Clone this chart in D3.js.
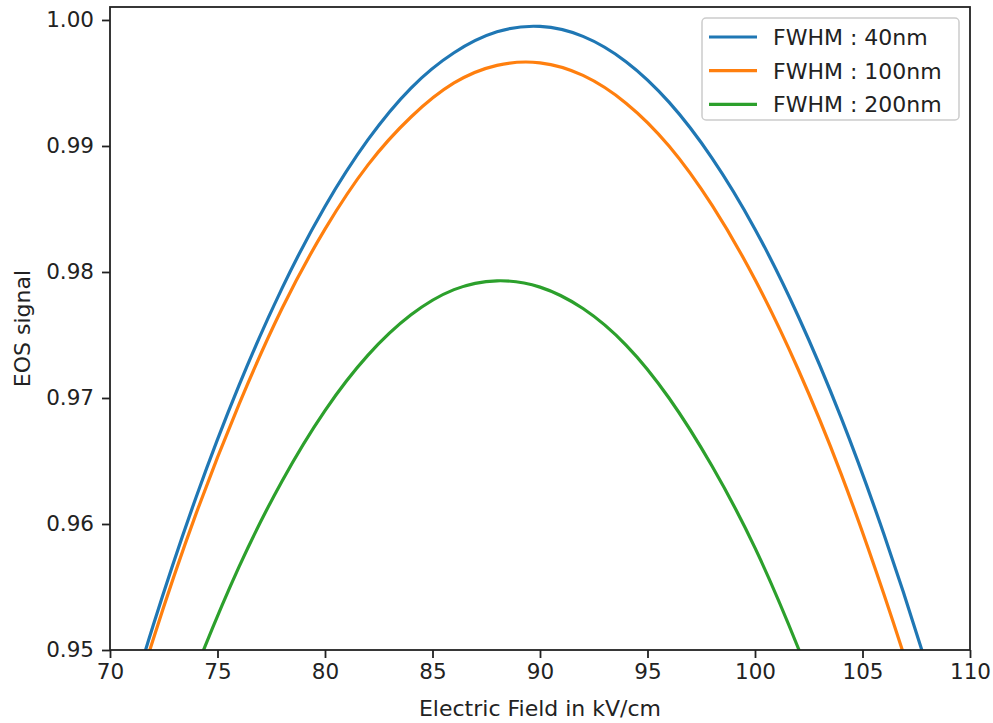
<html>

<head>
    <script src="https://d3js.org/d3.v7.min.js"></script>
    <style>
        body { margin: 0; background: white; }
        text { font-family: "DejaVu Sans", sans-serif; }
    </style>
</head>

<body>
    <div id="vis"></div>
</body>

<script>

    // Data (EOS signal vs electric field)
    var field = [70, 72, 74, 76, 78, 80, 82, 84, 86, 88, 90, 92, 94, 96, 98, 100, 102, 104, 106, 108, 110];
    var fwhm40 = [0.9406, 0.9519, 0.9621, 0.9710, 0.9787, 0.9852, 0.9905, 0.9946, 0.9974, 0.99906, 0.99949,
        0.99870, 0.99669, 0.99348, 0.98904, 0.98340, 0.97653, 0.96846, 0.95917, 0.94866, 0.93695];
    var fwhm100 = [0.9396, 0.9508, 0.9608, 0.9695, 0.9771, 0.9834, 0.9885, 0.9923, 0.9950, 0.9964, 0.9966,
        0.9956, 0.9934, 0.9900, 0.9853, 0.9794, 0.9723, 0.9640, 0.9544, 0.9437, 0.9317];
    var fwhm200 = [0.9288, 0.9393, 0.9485, 0.9566, 0.9634, 0.9690, 0.9734, 0.9766, 0.9786, 0.9793, 0.9788,
        0.9771, 0.9742, 0.9700, 0.9646, 0.9581, 0.9502, 0.9412, 0.9310, 0.9200, 0.9080];
    var labels = ["FWHM : 40nm", "FWHM : 100nm", "FWHM : 200nm"];
    var colors = ["#1f77b4", "#ff7f0e", "#2ca02c"];
    var xTicks = [70, 75, 80, 85, 90, 95, 100, 105, 110];
    var yTicks = [0.95, 0.96, 0.97, 0.98, 0.99, 1.00];

    //Setting up the graph area
    var margin = { top: 7, right: 23, bottom: 73, left: 110 },
        width = 993 - margin.left - margin.right,
        height = 723 - margin.top - margin.bottom;

    var svg = d3.select("#vis")
        .append("svg")
        .attr("width", width + margin.left + margin.right)
        .attr("height", height + margin.top + margin.bottom)
        .append("g")
        .attr("transform", "translate(" + margin.left + "," + margin.top + ")");

    var x = d3.scaleLinear().domain([70, 110]).range([0, width]);
    var y = d3.scaleLinear().domain([0.95, 1.00103]).range([height, 0]);

    svg.append("clipPath")
        .attr("id", "clip")
        .append("rect")
        .attr("width", width)
        .attr("height", height);

    // the curves
    var series = [fwhm40, fwhm100, fwhm200];
    var line = d3.line()
        .curve(d3.curveNatural)
        .x(function (d) { return x(d[0]); })
        .y(function (d) { return y(d[1]); });

    svg.append("g")
        .attr("clip-path", "url(#clip)")
        .selectAll("path")
        .data(series)
        .enter()
        .append("path")
        .attr("d", function (s) { return line(field.map(function (f, i) { return [f, s[i]]; })); })
        .attr("fill", "none")
        .attr("stroke", function (d, i) { return colors[i]; })
        .attr("stroke-width", 3.2);

    // axes
    var xAxis = svg.append("g")
        .attr("transform", "translate(0," + height + ")")
        .call(d3.axisBottom(x).tickValues(xTicks).tickSize(8).tickPadding(6).tickFormat(d3.format("d")));

    var yAxis = svg.append("g")
        .call(d3.axisLeft(y).tickValues(yTicks).tickSize(8).tickPadding(8).tickFormat(d3.format(".2f")));

    [xAxis, yAxis].forEach(function (a) {
        a.selectAll("text").style("font-size", "21.5px").attr("fill", "#222");
        a.selectAll("line").attr("stroke", "#222").attr("stroke-width", 1.8);
        a.select(".domain").remove();
    });

    // frame
    svg.append("rect")
        .attr("width", width)
        .attr("height", height)
        .attr("fill", "none")
        .attr("stroke", "#222")
        .attr("stroke-width", 1.8);

    // axis titles
    svg.append("text")
        .attr("text-anchor", "middle")
        .attr("x", width / 2)
        .attr("y", height + 66)
        .style("font-size", "22px")
        .attr("fill", "#222")
        .text("Electric Field in kV/cm");

    svg.append("text")
        .attr("text-anchor", "middle")
        .attr("transform", "rotate(-90)")
        .attr("x", -height / 2)
        .attr("y", -80)
        .style("font-size", "22px")
        .attr("fill", "#222")
        .text("EOS signal");

    // legend
    var legend = svg.append("g")
        .attr("transform", "translate(" + (702 - margin.left) + "," + (18 - margin.top) + ")");

    legend.append("rect")
        .attr("width", 257)
        .attr("height", 102)
        .attr("rx", 4)
        .attr("fill", "white")
        .attr("fill-opacity", 0.8)
        .attr("stroke", "#cccccc")
        .attr("stroke-width", 1.5);

    var rows = legend.selectAll(".row")
        .data(labels)
        .enter()
        .append("g")
        .attr("transform", function (d, i) { return "translate(0," + (19 + i * 33.7) + ")"; });

    rows.append("line")
        .attr("x1", 7)
        .attr("x2", 55)
        .attr("stroke", function (d, i) { return colors[i]; })
        .attr("stroke-width", 3.2);

    rows.append("text")
        .attr("x", 71)
        .attr("y", 8)
        .style("font-size", "22px")
        .attr("fill", "#222")
        .text(function (d) { return d; });

</script>

</html>
